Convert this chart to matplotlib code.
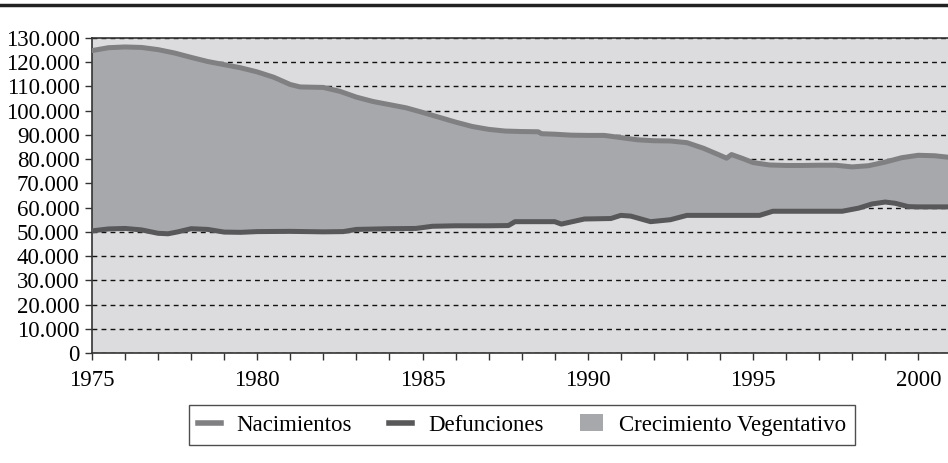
import matplotlib
matplotlib.use("Agg")
import matplotlib.pyplot as plt
import numpy as np
from matplotlib.lines import Line2D
from matplotlib.patches import Patch
from matplotlib.ticker import FuncFormatter, MultipleLocator

# --- data ---
birth_years = [1975.0, 1975.5, 1976.0, 1976.5, 1977.0, 1977.5, 1978.0, 1978.5, 1979.0, 1979.5,
               1980.0, 1980.5, 1981.0, 1981.3, 1982.0, 1982.5, 1983.0, 1983.5, 1984.0, 1984.5,
               1985.0, 1985.5, 1986.0, 1986.5, 1987.0, 1987.5, 1988.0, 1988.5, 1988.6, 1989.0,
               1989.5, 1990.0, 1990.5, 1991.0, 1991.5, 1992.0, 1992.5, 1993.0, 1993.5, 1994.0,
               1994.2, 1994.35, 1994.7, 1995.0, 1995.5, 1996.0, 1996.5, 1997.0, 1997.5, 1998.0,
               1998.5, 1999.0, 1999.5, 2000.0, 2000.5, 2000.9]
births = [124800, 126000, 126300, 126100, 125200, 123800, 122000, 120300, 119000, 117700,
          116000, 113800, 110800, 109800, 109600, 108000, 105600, 103800, 102500, 101200,
          99300, 97300, 95300, 93500, 92300, 91600, 91400, 91300, 90500, 90300,
          89900, 89800, 89800, 88900, 88000, 87600, 87500, 86800, 84500, 81600,
          80400, 81900, 80200, 78600, 77600, 77400, 77400, 77500, 77500, 76800,
          77300, 78800, 80600, 81600, 81400, 80800]

death_years = [1975.0, 1975.5, 1976.0, 1976.5, 1977.0, 1977.3, 1977.6, 1978.0, 1978.5, 1979.0,
               1979.5, 1980.0, 1981.0, 1982.0, 1982.6, 1983.0, 1984.0, 1984.8, 1985.3, 1986.0,
               1987.0, 1987.6, 1987.8, 1989.0, 1989.2, 1989.9, 1990.7, 1991.0, 1991.3, 1991.9,
               1992.5, 1993.0, 1994.0, 1995.2, 1995.6, 1997.7, 1998.2, 1998.6, 1999.0, 1999.3,
               1999.7, 2000.0, 2000.9]
deaths = [50400, 51200, 51400, 50800, 49400, 49200, 50000, 51300, 51000, 49900,
          49800, 50100, 50200, 50000, 50100, 51000, 51300, 51400, 52300, 52500,
          52500, 52600, 54200, 54200, 53200, 55300, 55500, 56800, 56500, 54200,
          55000, 56800, 56800, 56800, 58500, 58500, 59800, 61500, 62300, 61800,
          60400, 60300, 60300]

series_labels = ["Nacimientos", "Defunciones", "Crecimiento Vegentativo"]
year_ticks = [1975, 1980, 1985, 1990, 1995, 2000]
y_ticks = list(range(0, 130001, 10000))

# --- style ---
C_BG = "#dcdcde"
C_FILL = "#a7a8ab"
C_BIRTH = "#808083"
C_DEATH = "#58585a"
plt.rcParams["font.family"] = ["Liberation Serif", "DejaVu Serif"]
FS = 16.5

fig = plt.figure(figsize=(9.48, 4.63), dpi=100)
ax = fig.add_axes([92 / 948, 1 - 353 / 463, 1 - 92 / 948, (353 - 38) / 463])
ax.set_facecolor(C_BG)

xb = np.array(birth_years); yb = np.array(births)
xd = np.array(death_years); yd = np.array(deaths)
ax.fill(np.concatenate([xb, xd[::-1]]), np.concatenate([yb, yd[::-1]]),
        color=C_FILL, lw=0, zorder=1)
ax.plot(xb, yb, color=C_BIRTH, lw=3.6, solid_joinstyle="round", solid_capstyle="round", zorder=3)
ax.plot(xd, yd, color=C_DEATH, lw=3.6, solid_joinstyle="round", solid_capstyle="round", zorder=3)

ax.set_xlim(1975, 2000.9)
ax.set_ylim(0, 130000)
ax.set_xticks(year_ticks)
ax.xaxis.set_minor_locator(MultipleLocator(1))
ax.set_yticks(y_ticks)
ax.yaxis.set_major_formatter(FuncFormatter(lambda v, p: f"{int(v):,}".replace(",", ".")))

ax.set_axisbelow(True)
ax.yaxis.grid(True, color="#111111", linestyle=(0, (3.5, 3)), lw=1.0)
ax.xaxis.grid(False)

for s in ["left", "bottom", "top"]:
    ax.spines[s].set_color("#333333")
    ax.spines[s].set_linewidth(1.2)
ax.spines["right"].set_visible(False)

ax.tick_params(axis="both", which="both", direction="out", color="#333333", width=1.0, labelsize=FS)
ax.tick_params(axis="x", which="major", length=5, pad=7)
ax.tick_params(axis="x", which="minor", length=5)
ax.tick_params(axis="y", length=5, pad=4)

fig.add_artist(Line2D([0, 1], [1 - 5 / 463, 1 - 5 / 463], color="#222222", lw=2.5))

handles = [Line2D([], [], color=C_BIRTH, lw=4),
           Line2D([], [], color=C_DEATH, lw=4),
           Patch(facecolor=C_FILL, edgecolor="none")]
leg = fig.legend(handles, series_labels, loc="center", bbox_to_anchor=(522 / 948, 1 - 425 / 463),
                 ncol=3, fontsize=FS, frameon=True, fancybox=False, handlelength=1.0,
                 handleheight=0.7, handletextpad=0.7, columnspacing=1.6, borderpad=0.4)
leg.get_frame().set_edgecolor("#222222")
leg.get_frame().set_linewidth(1.0)

fig.savefig("out.png", dpi=100)
